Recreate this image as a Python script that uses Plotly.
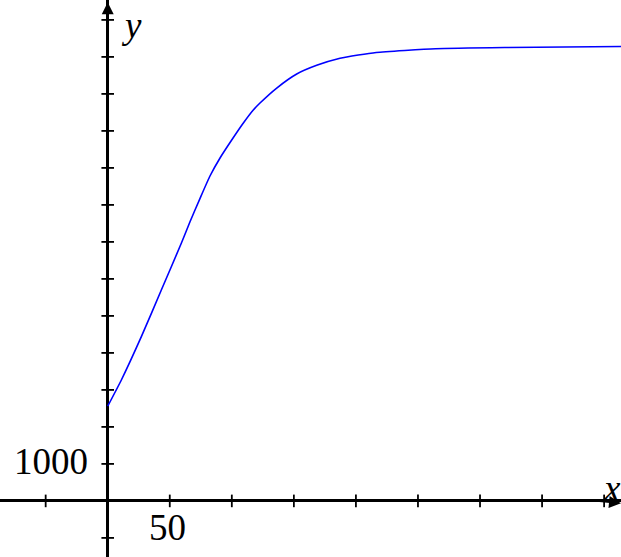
import plotly.graph_objects as go

# Curve data
x_vals = [0, 11.0, 27.1, 43.2, 59.3, 66.3, 74.4, 82.4, 90.5, 99.9, 109.3, 117.3, 122.7,
          136.2, 152.3, 168.4, 187.2, 201.9, 216.4, 264.2, 320, 413.6]
y_vals = [2560, 3268, 4438, 5700, 6962, 7546, 8178, 8781, 9268, 9754, 10214, 10565, 10754,
          11159, 11538, 11773, 11962, 12051, 12120, 12222, 12255, 12281]

# Tick positions
x_ticks = [-50, 50, 100, 150, 200, 250, 300, 350, 400]
y_ticks = [-1000, 1000, 2000, 3000, 4000, 5000, 6000, 7000, 8000, 9000, 10000, 11000, 12000, 13000]

x_range = [-86.8, 413.6]
y_range = [-1516, 13538]

FONT = "Liberation Serif"

fig = go.Figure()

fig.add_trace(go.Scatter(x=x_vals, y=y_vals, mode="lines",
                         line=dict(color="#0000ff", width=1.6, shape="spline", smoothing=0.5),
                         hoverinfo="skip"))

fig.add_trace(go.Scatter(x=x_ticks, y=[0] * len(x_ticks), mode="markers",
                         marker=dict(symbol="line-ns", size=9,
                                     line=dict(color="black", width=1.8)),
                         hoverinfo="skip"))
fig.add_trace(go.Scatter(x=[0] * len(y_ticks), y=y_ticks, mode="markers",
                         marker=dict(symbol="line-ew", size=9,
                                     line=dict(color="black", width=1.8)),
                         hoverinfo="skip"))

annotations = [
    dict(x=-45.7, y=1000, text="1000", showarrow=False, xanchor="center", yanchor="middle",
         font=dict(family=FONT, size=37, color="black"), yshift=2),
    dict(x=47.8, y=-732, text="50", showarrow=False, xanchor="center", yanchor="middle",
         font=dict(family=FONT, size=37, color="black"), yshift=0),
    dict(x=18.8, y=12673, text="<i>y</i>", showarrow=False, xanchor="center", yanchor="middle",
         font=dict(family=FONT, size=37, color="black"), yshift=7),
    dict(x=406, y=268, text="<i>x</i>", showarrow=False, xanchor="center", yanchor="middle",
         font=dict(family=FONT, size=37, color="black"), yshift=2),
    # axis arrows
    dict(x=0, y=13480, ax=0, ay=12600, xref="x", yref="y", axref="x", ayref="y",
         text="", showarrow=True, arrowhead=2, arrowsize=1.2, arrowwidth=2, arrowcolor="black"),
    dict(x=413.6, y=-60, ax=395, ay=0, xref="x", yref="y", axref="x", ayref="y",
         text="", showarrow=True, arrowhead=2, arrowsize=1.2, arrowwidth=2, arrowcolor="black"),
]

fig.update_layout(
    width=621, height=557,
    margin=dict(l=0, r=0, t=0, b=0),
    paper_bgcolor="white", plot_bgcolor="white",
    showlegend=False,
    annotations=annotations,
    xaxis=dict(range=x_range, showgrid=False, showticklabels=False, ticks="",
               zeroline=True, zerolinecolor="black", zerolinewidth=2.5, fixedrange=True),
    yaxis=dict(range=y_range, showgrid=False, showticklabels=False, ticks="",
               zeroline=True, zerolinecolor="black", zerolinewidth=2.5, fixedrange=True),
)

fig.write_html("out.html", config={"displayModeBar": False},
               post_script="document.body.style.margin='0';")
